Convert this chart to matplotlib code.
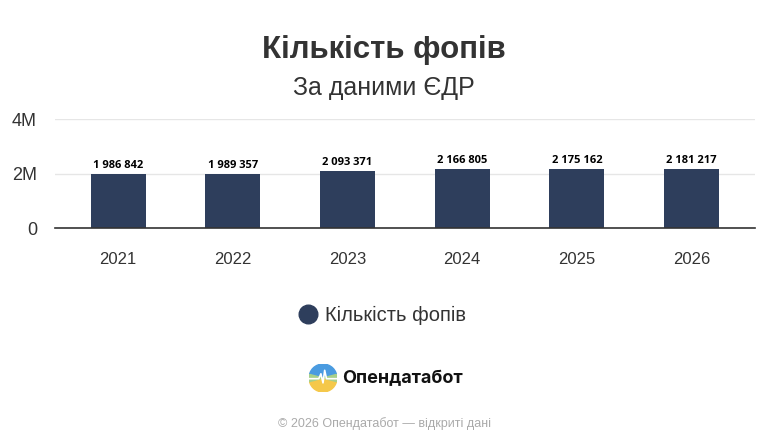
import matplotlib.pyplot as plt
from matplotlib.patches import Wedge
import numpy as np

years = ['2021', '2022', '2023', '2024', '2025', '2026']
fop_counts = [1986842, 1989357, 2093371, 2166805, 2175162, 2181217]
y_ticks = [0, 2000000, 4000000]
y_tick_labels = ['0', '2M', '4M']

BAR_COLOR = '#2e3e5c'
TEXT_COLOR = '#333333'

plt.rcParams['font.family'] = ['Liberation Sans', 'DejaVu Sans']

fig = plt.figure(figsize=(7.68, 4.48), dpi=100)
ax = fig.add_axes([0.0716, 0.491, 0.911, 0.243])

x = np.arange(len(years))
ax.bar(x, fop_counts, width=0.48, color=BAR_COLOR, zorder=3)
for xi, v in zip(x, fop_counts):
    label = f'{v:,}'.replace(',', ' ')
    ax.text(xi, v + 110000, label, ha='center', va='bottom', fontsize=8,
            fontweight='bold', color='black', family=['Open Sans', 'DejaVu Sans'])

ax.set_xlim(-0.55, 5.55)
ax.set_ylim(0, 4000000)
ax.set_yticks(y_ticks)
ax.set_yticklabels(y_tick_labels, fontsize=13, color=TEXT_COLOR)
ax.set_xticks(x)
ax.set_xticklabels(years, fontsize=12, color=TEXT_COLOR)
ax.tick_params(axis='both', length=0)
ax.tick_params(axis='x', pad=17)
ax.tick_params(axis='y', pad=13)
ax.grid(axis='y', color='#e6e6e6', linewidth=1, zorder=0)
for s in ['top', 'right', 'left']:
    ax.spines[s].set_visible(False)
ax.spines['bottom'].set_color('#333333')
ax.spines['bottom'].set_linewidth(1.2)
ax.spines['bottom'].set_zorder(4)

fig.text(0.5, 0.888, 'Кількість фопів', ha='center', va='center', fontsize=22.5,
         fontweight='bold', color=TEXT_COLOR)
fig.text(0.5, 0.803, 'За даними ЄДР', ha='center', va='center', fontsize=18,
         color=TEXT_COLOR)

# legend
leg = fig.add_axes([0, 0, 1, 1], zorder=-1)
leg.set_xlim(0, 768)
leg.set_ylim(448, 0)
leg.axis('off')
leg.scatter([308], [314], s=180, color=BAR_COLOR)
fig.text(325 / 768, 1 - 315 / 448, 'Кількість фопів', ha='left', va='center',
         fontsize=14.5, color=TEXT_COLOR)

# logo
logo = fig.add_axes([309 / 768, 1 - 392 / 448, 28 / 768, 28 / 448])
logo.set_xlim(-1, 1)
logo.set_ylim(-1, 1)
logo.set_aspect('equal')
logo.axis('off')
logo.add_patch(Wedge((0, 0), 1, 0, 180, color='#4a9be0'))
logo.add_patch(Wedge((0, 0), 1, 180, 360, color='#f5c84a'))
logo.add_patch(Wedge((0, 0), 1, 165, 195, color='#a8d08a'))
logo.add_patch(Wedge((0, 0), 1, -15, 15, color='#a8d08a'))
px = [-1, -0.3, -0.15, 0.0, 0.12, 0.25, 1]
py = [-0.05, -0.05, 0.3, -0.35, 0.55, -0.05, -0.05]
logo.plot(px, py, color='white', linewidth=1.2)
fig.text(342 / 768, 1 - 379 / 448, 'Опендатабот', ha='left', va='center',
         fontsize=13, fontweight='bold', color='#111111', family=['Inter', 'DejaVu Sans'])

fig.text(0.5, 1 - 424 / 448, '© 2026 Опендатабот — відкриті дані', ha='center',
         va='center', fontsize=9, color='#aaaaaa')

fig.savefig('out.png', dpi=100)
